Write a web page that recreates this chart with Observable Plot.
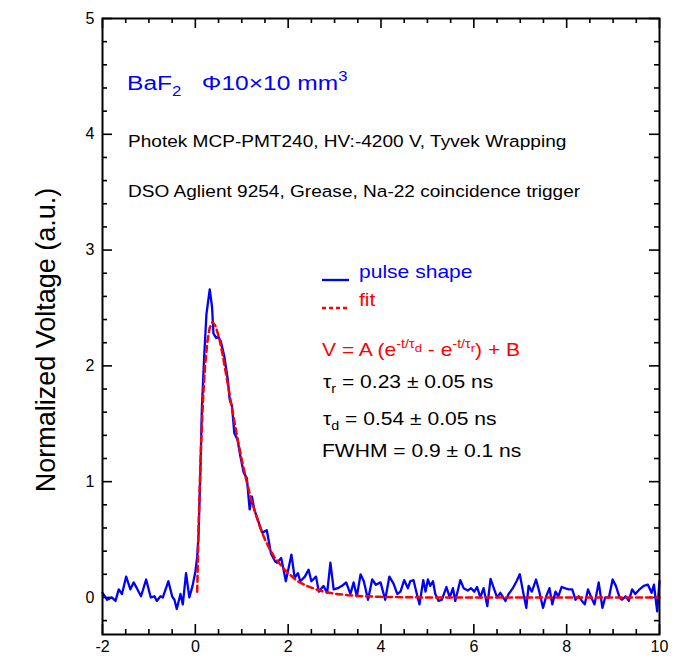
<!DOCTYPE html>
<html>
<head>
<meta charset="utf-8">
<script src="https://cdn.jsdelivr.net/npm/d3@7"></script>
<script src="https://cdn.jsdelivr.net/npm/@observablehq/plot@0.6"></script>
<style>
  html, body { margin: 0; padding: 0; background: white; }
  #chart svg { display: block; }
</style>
</head>
<body>
<div id="chart"></div>
<script>
// ---- Data ----
const pulseT = [-2.00,-1.90,-1.80,-1.72,-1.65,-1.58,-1.49,-1.40,-1.33,-1.26,-1.17,-1.06,-0.96,-0.88,-0.83,-0.75,-0.70,-0.58,-0.50,-0.45,-0.40,-0.32,-0.27,-0.20,-0.13,-0.06,0.00,0.04,0.07,0.11,0.14,0.19,0.24,0.31,0.36,0.39,0.45,0.50,0.55,0.625,0.70,0.74,0.79,0.84,0.91,0.97,1.04,1.11,1.17,1.22,1.27,1.33,1.44,1.54,1.63,1.72,1.76,1.85,1.95,2.07,2.14,2.21,2.26,2.36,2.44,2.50,2.60,2.66,2.76,2.84,2.91,2.98,3.07,3.16,3.25,3.34,3.41,3.48,3.56,3.63,3.72,3.81,3.89,3.99,4.09,4.18,4.27,4.35,4.42,4.50,4.58,4.63,4.70,4.76,4.83,4.91,4.96,5.01,5.06,5.12,5.17,5.24,5.31,5.41,5.48,5.55,5.60,5.71,5.78,5.87,5.94,6.01,6.07,6.14,6.21,6.29,6.36,6.43,6.50,6.57,6.68,6.75,6.84,6.92,6.99,7.06,7.13,7.18,7.25,7.34,7.41,7.49,7.56,7.63,7.69,7.76,7.82,7.89,7.96,8.04,8.12,8.19,8.26,8.33,8.39,8.46,8.53,8.60,8.69,8.77,8.83,8.91,8.99,9.06,9.14,9.19,9.27,9.34,9.41,9.48,9.57,9.66,9.75,9.83,9.88,9.95,10.00];
const pulseV = [0.04,-0.02,0.00,-0.03,0.07,0.03,0.18,0.07,0.13,0.08,0.01,0.155,0.00,0.01,-0.03,0.01,0.00,0.14,0.01,-0.02,-0.10,0.03,-0.06,0.21,0.00,0.10,0.22,0.35,0.55,1.10,1.62,2.08,2.45,2.66,2.51,2.28,2.24,2.25,2.21,2.08,1.88,1.71,1.65,1.42,1.36,1.22,1.08,1.03,0.76,0.87,0.76,0.69,0.56,0.58,0.38,0.31,0.30,0.34,0.14,0.37,0.17,0.21,0.14,0.18,0.24,0.14,0.18,0.05,0.10,0.04,0.30,0.07,0.08,0.10,0.13,0.03,0.13,0.01,0.20,0.14,-0.02,0.155,0.11,0.13,-0.02,0.18,0.12,0.03,0.05,0.15,0.08,0.14,0.15,0.05,-0.06,0.15,0.05,0.155,0.10,0.14,0.03,-0.03,-0.02,0.09,0.00,0.08,-0.03,0.15,0.08,0.06,0.08,0.05,0.09,0.00,0.08,-0.075,0.16,0.08,0.00,0.04,-0.03,0.03,0.08,0.14,0.20,0.05,-0.09,0.10,0.05,0.155,0.05,-0.09,0.01,0.08,-0.06,0.05,0.01,0.09,0.08,0.07,0.07,-0.02,0.01,-0.03,-0.06,0.07,0.00,-0.06,0.13,-0.09,0.00,0.00,0.155,0.10,0.00,-0.02,0.01,-0.03,0.07,0.03,0.07,0.10,0.11,0.04,0.11,-0.12,0.14];

const fitT = [0.04,0.07,0.10,0.13,0.17,0.21,0.26,0.31,0.37,0.44,0.52,0.60,0.70,0.80,0.90,1.00,1.10,1.20,1.30,1.40,1.50,1.60,1.70,1.80,1.90,2.00,2.20,2.40,2.60,2.80,3.00,3.30,3.60,4.00,5.00,6.00,8.00,10.00];
const fitV = [0.05,0.61,1.04,1.38,1.74,2.00,2.21,2.33,2.38,2.34,2.23,2.07,1.84,1.61,1.39,1.19,1.01,0.85,0.72,0.60,0.50,0.42,0.35,0.30,0.25,0.21,0.14,0.10,0.07,0.047,0.032,0.02,0.011,0.005,0.0,0.0,0.0,0.0];

const xTicks = [-2, 0, 2, 4, 6, 8, 10];
const yTicks = [0, 1, 2, 3, 4, 5];
const xMinor = d3.range(-2, 10.001, 0.5).filter(v => !xTicks.includes(v));
const yMinor = d3.range(-0.2, 5.001, 0.2).map(v => Math.round(v * 10) / 10).filter(v => !yTicks.includes(v));

const pulse = pulseT.map((t, i) => ({t, v: pulseV[i]}));
const fit = fitT.map((t, i) => ({t, v: fitV[i]}));

// ---- Layout ----
const W = 680, H = 664;
const mL = 102, mR = 21, mT = 18, mB = 30;
const innerW = W - mL - mR, innerH = H - mT - mB;
const majorLen = 10, minorLen = 5;
const FONT = "Liberation Sans, Arial, Helvetica, sans-serif";
const BLUE = "#0000ff", RED = "#ff0000";
const fmt = d => String(d);

const plot = Plot.plot({
  width: W, height: H,
  marginLeft: mL, marginRight: mR, marginTop: mT, marginBottom: mB,
  x: {domain: [-2, 10]},
  y: {domain: [-0.32, 5]},
  style: {fontFamily: FONT, fontSize: "16px", color: "black", background: "white", overflow: "visible"},
  marks: [
    Plot.axisX(xTicks, {tickSize: 0, tickPadding: 6, fontSize: 16, label: null, tickFormat: fmt}),
    Plot.axisY(yTicks, {tickSize: 0, tickPadding: 8, fontSize: 16, label: null, tickFormat: fmt}),
    // inward ticks, bottom & top
    Plot.tickX(xTicks, {x: d => d, insetTop: innerH - majorLen, stroke: "black", strokeWidth: 1.6}),
    Plot.tickX(xMinor, {x: d => d, insetTop: innerH - minorLen, stroke: "black", strokeWidth: 1.6}),
    Plot.tickX(xTicks, {x: d => d, insetBottom: innerH - majorLen, stroke: "black", strokeWidth: 1.6}),
    Plot.tickX(xMinor, {x: d => d, insetBottom: innerH - minorLen, stroke: "black", strokeWidth: 1.6}),
    // inward ticks, left & right
    Plot.tickY(yTicks, {y: d => d, insetRight: innerW - majorLen, stroke: "black", strokeWidth: 1.6}),
    Plot.tickY(yMinor, {y: d => d, insetRight: innerW - minorLen, stroke: "black", strokeWidth: 1.6}),
    Plot.tickY(yTicks, {y: d => d, insetLeft: innerW - majorLen, stroke: "black", strokeWidth: 1.6}),
    Plot.tickY(yMinor, {y: d => d, insetLeft: innerW - minorLen, stroke: "black", strokeWidth: 1.6}),
    Plot.line(pulse, {x: "t", y: "v", stroke: BLUE, strokeWidth: 2.3}),
    Plot.line(fit, {x: "t", y: "v", stroke: RED, strokeWidth: 2.5, strokeDasharray: "6,4"}),
    Plot.frame({stroke: "black", strokeWidth: 2})
  ]
});

document.getElementById("chart").appendChild(plot);

// ---- Annotations ----
const svg = d3.select(plot);
const SX = 1.17; // horizontal stretch of the reference's lettering

function richText(x, y, parts, size, fill) {
  const t = svg.append("text")
    .attr("transform", `translate(${x},${y}) scale(${SX},1)`)
    .attr("text-anchor", "start")
    .attr("font-family", FONT)
    .attr("font-size", size)
    .attr("fill", fill)
    .attr("xml:space", "preserve")
    .style("white-space", "pre");
  let cur = 0;
  for (const [str, kind] of parts) {
    let target = 0, fs = size;
    if (kind === "sub") { target = size * 0.3; fs = size * 0.68; }
    else if (kind === "sup") { target = -size * 0.42; fs = size * 0.68; }
    else if (kind === "supsub") { target = -size * 0.2; fs = size * 0.62; }
    t.append("tspan").attr("dy", target - cur).attr("font-size", fs).text(str);
    cur = target;
  }
  return t;
}

richText(127, 90, [["BaF"], ["2", "sub"], ["\u00a0\u00a0\u00a0\u03a610\u00d710 mm"], ["3", "sup"]], 21, BLUE);
richText(128, 147, [["Photek MCP-PMT240, HV:-4200 V, Tyvek Wrapping"]], 16.3, "black");
richText(128, 197, [["DSO Aglient 9254, Grease, Na-22 coincidence trigger"]], 16.3, "black");

// legend
svg.append("line").attr("x1", 322).attr("x2", 349).attr("y1", 280).attr("y2", 280)
  .attr("stroke", BLUE).attr("stroke-width", 2.3);
richText(359, 278, [["pulse shape"]], 18, BLUE);
svg.append("line").attr("x1", 322).attr("x2", 349).attr("y1", 308).attr("y2", 308)
  .attr("stroke", RED).attr("stroke-width", 2.5).attr("stroke-dasharray", "4,3");
richText(359, 306, [["fit"]], 18, RED);

richText(322, 356, [["V = A (e"], ["-t/\u03c4", "sup"], ["d", "supsub"], [" - e"], ["-t/\u03c4", "sup"], ["r", "supsub"], [") + B"]], 18, RED);
richText(323, 388, [["\u03c4"], ["r", "sub"], [" = 0.23 \u00b1 0.05 ns"]], 18, "black");
richText(323, 425, [["\u03c4"], ["d", "sub"], [" = 0.54 \u00b1 0.05 ns"]], 18, "black");
richText(322, 457, [["FWHM = 0.9 \u00b1 0.1 ns"]], 18, "black");

// y-axis title
svg.append("text")
  .attr("transform", "translate(55,340) rotate(-90)")
  .attr("text-anchor", "middle")
  .attr("font-family", FONT)
  .attr("font-size", 27)
  .attr("fill", "black")
  .text("Normalized Voltage (a.u.)");
</script>
</body>
</html>
